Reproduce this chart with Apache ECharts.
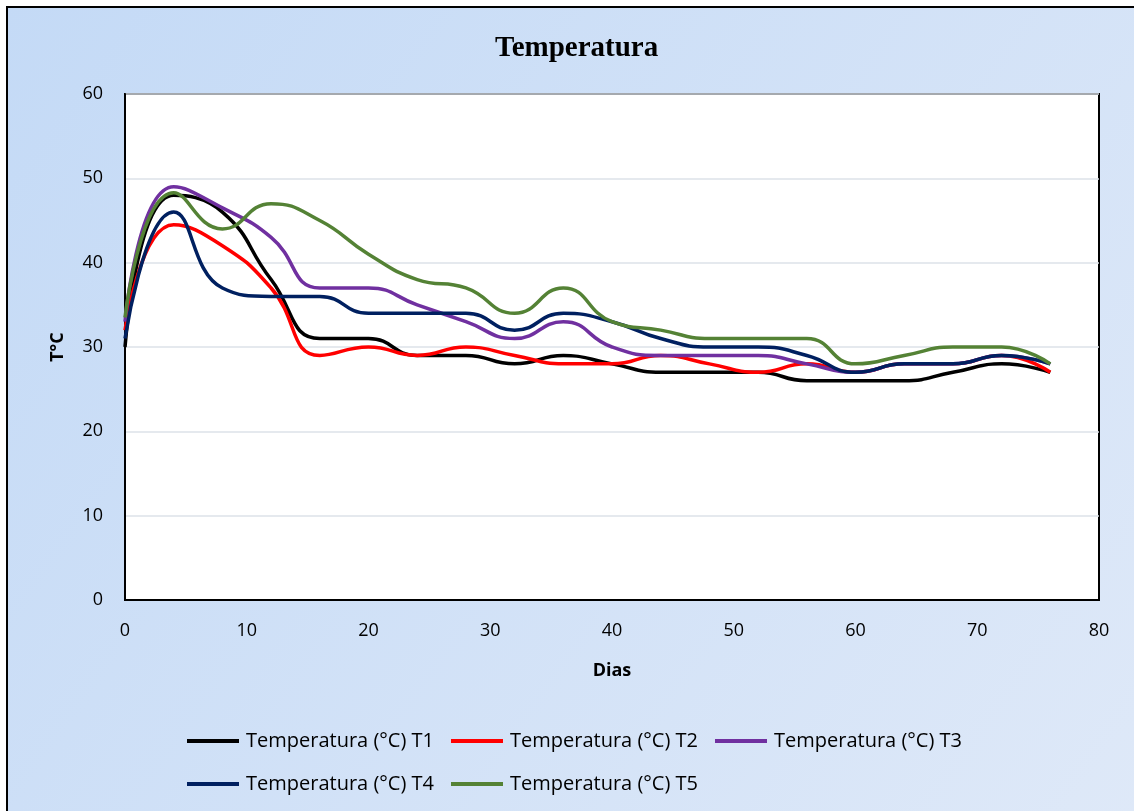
<!DOCTYPE html>
<html>
<head>
<meta charset="utf-8">
<title>Temperatura</title>
<script src="https://cdn.jsdelivr.net/npm/echarts@6/dist/echarts.min.js"></script>
<style>
  html, body { margin: 0; padding: 0; background: #fff; }
  #chart { width: 1134px; height: 811px; }
</style>
</head>
<body>
<div id="chart"></div>
<script>
// dias de medición
var dias = [0, 4, 8, 12, 16, 20, 24, 28, 32, 36, 40, 44, 48, 52, 56, 60, 64, 68, 72, 76];

// temperatura por tratamiento
var t1 = [30, 48, 46, 38, 31, 31, 29, 29, 28, 29, 28, 27, 27, 27, 26, 26, 26, 27, 28, 27];
var t2 = [32, 44.5, 42, 37, 29, 30, 29, 30, 29, 28, 28, 29, 28, 27, 28, 27, 28, 28, 29, 27];
var t3 = [33, 49, 46.5, 43, 37, 37, 35, 33, 31, 33, 30, 29, 29, 29, 28, 27, 28, 28, 29, 28];
var t4 = [31, 46, 37, 36, 36, 34, 34, 34, 32, 34, 33, 31, 30, 30, 29, 27, 28, 28, 29, 28];
var t5 = [33.5, 48.3, 44, 47, 45, 41, 38, 37, 34, 37, 33, 32, 31, 31, 31, 28, 29, 30, 30, 28];

var nombres = ['Temperatura (°C) T1', 'Temperatura (°C) T2', 'Temperatura (°C) T3',
               'Temperatura (°C) T4', 'Temperatura (°C) T5'];
var colores = ['#000000', '#ff0000', '#7030a0', '#002060', '#548235'];
var valores = [t1, t2, t3, t4, t5];

var fuente = 'Open Sans';

var chart = echarts.init(document.getElementById('chart'));

var series = valores.map(function (v, i) {
    return {
        name: nombres[i],
        type: 'line',
        smooth: 0.5,
        showSymbol: false,
        symbol: 'none',
        data: dias.map(function (d, j) { return [d, v[j]]; }),
        lineStyle: { color: colores[i], width: 3.5 },
        itemStyle: { color: colores[i] }
    };
});

var leyenda = function (datos, top) {
    return {
        data: datos,
        left: 182,
        top: top,
        icon: 'rect',
        itemWidth: 52,
        itemHeight: 4,
        itemGap: 17,
        textStyle: { fontFamily: fuente, fontSize: 20, color: '#000', padding: [0, 0, 0, 2] }
    };
};

var option = {
    animation: false,
    graphic: [{
        type: 'rect',
        z: -10,
        silent: true,
        shape: { x: 7, y: 7, width: 1160, height: 840 },
        style: {
            fill: new echarts.graphic.LinearGradient(0, 0, 1, 1, [
                { offset: 0, color: '#c4daf6' },
                { offset: 1, color: '#dfe9f8' }
            ]),
            stroke: '#000',
            lineWidth: 2
        }
    }],
    title: {
        text: 'Temperatura',
        left: 490,
        top: 29,
        textStyle: { fontFamily: 'Liberation Serif', fontWeight: 'bold', fontSize: 29, color: '#000' }
    },
    legend: [
        leyenda(nombres.slice(0, 3), 726),
        leyenda(nombres.slice(3), 769)
    ],
    grid: {
        left: 125, top: 94, right: 35, bottom: 211,
        show: true,
        backgroundColor: '#fff',
        borderColor: '#000',
        borderWidth: 2
    },
    xAxis: {
        type: 'value',
        min: 0, max: 80, interval: 10,
        name: 'Dias',
        nameLocation: 'middle',
        nameGap: 62,
        nameTextStyle: { fontFamily: fuente, fontWeight: 'bold', fontSize: 18, color: '#000' },
        axisLine: { show: true, lineStyle: { color: '#000', width: 2 } },
        axisTick: { show: false },
        splitLine: { show: false },
        axisLabel: { fontFamily: fuente, fontSize: 18, color: '#000', margin: 22 }
    },
    yAxis: {
        type: 'value',
        min: 0, max: 60, interval: 10,
        name: 'T°C',
        nameLocation: 'middle',
        nameGap: 58,
        nameRotate: 90,
        nameTextStyle: { fontFamily: fuente, fontWeight: 'bold', fontSize: 18, color: '#000' },
        axisLine: { show: true, lineStyle: { color: '#000', width: 2 } },
        axisTick: { show: false },
        splitLine: { show: true, lineStyle: { color: '#dde2e8', width: 1.5 } },
        axisLabel: { fontFamily: fuente, fontSize: 18, color: '#000', margin: 22 }
    },
    series: series
};

chart.setOption(option);
</script>
</body>
</html>
